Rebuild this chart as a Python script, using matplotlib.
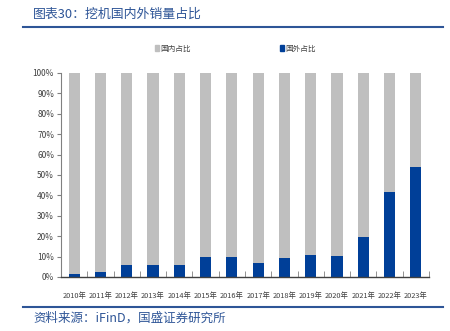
import matplotlib
matplotlib.use("Agg")
import matplotlib.pyplot as plt
from matplotlib.lines import Line2D
from matplotlib.patches import Patch

plt.rcParams['font.family'] = ['Noto Sans CJK SC', 'DejaVu Sans']

# data (share of excavator sales, %)
years = ['2010年', '2011年', '2012年', '2013年', '2014年', '2015年', '2016年',
         '2017年', '2018年', '2019年', '2020年', '2021年', '2022年', '2023年']
foreign = [1.6, 2.4, 6.0, 6.0, 6.0, 9.6, 10.0, 6.9, 9.3, 10.8, 10.3, 19.8, 41.7, 53.8]
domestic = [100 - v for v in foreign]

gray = '#BFBFBF'
blue = '#003F98'
line_blue = '#2E5597'
txt = '#404040'

fig = plt.figure(figsize=(4.5, 3.31), dpi=100)
W, H = 450, 331
ax = fig.add_axes([61 / W, 1 - 277 / H, (429 - 61) / W, (277 - 73) / H])

x = list(range(len(years)))
ax.bar(x, foreign, width=0.42, color=blue, zorder=2)
ax.bar(x, domestic, width=0.42, bottom=foreign, color=gray, zorder=2)

ax.set_xlim(-0.5, len(years) - 0.5)
ax.set_ylim(0, 100)
ax.set_yticks(range(0, 101, 10))
ax.set_yticklabels([f'{v}%' for v in range(0, 101, 10)], fontsize=6, color=txt)
ax.set_xticks(x)
ax.set_xticklabels(years, fontsize=5.3, color=txt)
ax.tick_params(axis='x', length=0, pad=11)
ax.set_xticks([i + 0.5 for i in x], minor=True)
ax.tick_params(axis='x', which='minor', direction='in', length=4, color='#808080')
ax.tick_params(axis='y', length=3, color='#808080', pad=2)

for s in ['top', 'right']:
    ax.spines[s].set_visible(False)
ax.spines['left'].set_color('#808080')
ax.spines['bottom'].set_color('#404040')
ax.spines['bottom'].set_linewidth(1.0)

# legend
handles = [Patch(color=gray), Patch(color=blue)]
fig.legend([handles[0]], ['国内占比'], loc='center', bbox_to_anchor=(173 / W, 1 - 49 / H),
           frameon=False, fontsize=5.5, handlelength=0.5, handleheight=0.8, handletextpad=0.2,
           labelcolor=txt)
fig.legend([handles[1]], ['国外占比'], loc='center', bbox_to_anchor=(298 / W, 1 - 49 / H),
           frameon=False, fontsize=5.5, handlelength=0.5, handleheight=0.8, handletextpad=0.2,
           labelcolor=txt)

# title, rules and source
fig.text(33 / W, 1 - 14 / H, '图表30：挖机国内外销量占比', fontsize=9.3, color=line_blue,
         va='center', ha='left', style='italic')
fig.add_artist(Line2D([23 / W, 443 / W], [1 - 27 / H] * 2, color=line_blue, lw=1.5))
fig.add_artist(Line2D([23 / W, 443 / W], [1 - 307 / H] * 2, color=line_blue, lw=1.5))
fig.text(33 / W, 1 - 318 / H, '资料来源：iFinD，国盛证券研究所', fontsize=9, color=line_blue,
         va='center', ha='left', style='italic')

fig.savefig('out.png', dpi=100)
